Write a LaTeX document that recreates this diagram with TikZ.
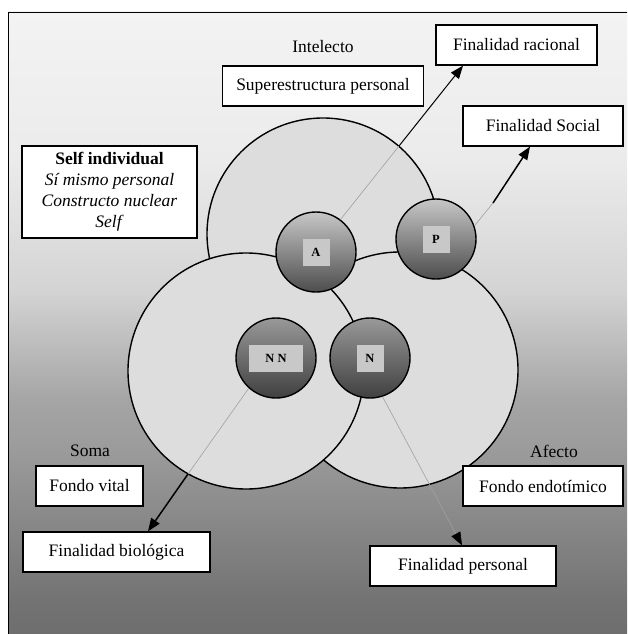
\documentclass[tikz,border=0pt]{standalone}
\usepackage{fontspec}
\setmainfont{Liberation Serif}
\usepackage{tikz}
\usetikzlibrary{arrows.meta}

\definecolor{bg0}{RGB}{110,110,110}
\definecolor{bg1}{RGB}{115,115,115}
\definecolor{bg2}{RGB}{155,155,155}
\definecolor{bg3}{RGB}{165,165,165}
\definecolor{bg4}{RGB}{212,212,212}
\definecolor{bg5}{RGB}{235,235,235}
\definecolor{bg6}{RGB}{243,243,243}
\definecolor{ringgray}{RGB}{221,221,221}
\definecolor{taggray}{RGB}{200,200,200}
\definecolor{faint}{RGB}{160,160,160}
\pgfdeclareverticalshading{backfade}{100bp}{color(0bp)=(bg0); color(25bp)=(bg0);
  color(27.7bp)=(bg1); color(39.8bp)=(bg2); color(43.8bp)=(bg3);
  color(52.7bp)=(bg4); color(63.1bp)=(bg5); color(75bp)=(bg6); color(100bp)=(bg6)}

\begin{document}
\begin{tikzpicture}[x=1pt, y=-1pt,
  every node/.style={font=\fontsize{17.5}{21}\selectfont},
  ring/.style={circle, draw, line width=1.4pt, fill=ringgray, inner sep=0pt},
  core/.style={circle, draw, line width=1.4pt, inner sep=0pt, minimum size=80pt},
  tag/.style={fill=taggray, inner sep=0pt, minimum height=27pt, minimum width=27pt,
    font=\fontsize{12.5}{14}\selectfont\bfseries},
  box/.style={draw, fill=white, line width=1.3pt, inner sep=0pt, minimum height=40pt},
  link/.style={line width=1.5pt, -{Triangle[length=13pt,width=10pt]}},
  faintlink/.style={draw=faint, line width=0.6pt}]
\useasboundingbox (0,0) rectangle (627,634);
\clip (0,0) rectangle (627,634);
\shade[shading=backfade] (8,12) rectangle (640,634);
\draw[line width=1.3pt] (8.5,650) |- (650,12.5);
% the three rings
\node[ring, minimum size=232pt] (intelecto) at (323,234) {};
\node[ring, minimum size=236pt] (afecto) at (400,370) {};
\node[ring, minimum size=236pt] (soma) at (246,371) {};
% faint parts of the connectors
\coordinate (r1) at (399,146);
\coordinate (s1) at (493,203);
\coordinate (b1) at (188,474);
% cores
\node[core, top color=black!22, bottom color=black!70] (A) at (316,252) {};
\node[core, top color=black!22, bottom color=black!70] (P) at (436,239) {};
\node[core, top color=black!40, bottom color=black!75] (NN) at (276,358) {};
\node[core, top color=black!40, bottom color=black!75] (N) at (370,358) {};
\node[tag] (tA) at (A) {A};
\node[tag] (tP) at (P) {P};
\node[tag, minimum width=54pt] (tNN) at (NN) {N N};
\node[tag] (tN) at (N) {N};
% labels and boxes
\node (lintelecto) at (323,47) {Intelecto};
\node (lsoma) at (90,451) {Soma};
\node (lafecto) at (554,451) {Afecto};
\node[box, minimum width=201pt] (superestructura) at (323,86) {Superestructura personal};
\node[box, minimum width=161pt] (racional) at (516.5,45) {Finalidad racional};
\node[box, minimum width=160pt] (social) at (543,126) {Finalidad Social};
\node[box, minimum width=175pt, minimum height=92pt, align=center] (self) at (109.5,192)
  {\textbf{Self individual}\\\textit{Sí mismo personal}\\\textit{Constructo nuclear}\\\textit{Self}};
\node[box, minimum width=107pt] (fvital) at (89.5,486) {Fondo vital};
\node[box, minimum width=187pt] (biologica) at (116.5,552) {Finalidad biológica};
\node[box, minimum width=160pt] (endotimico) at (543,486) {Fondo endotímico};
\node[box, minimum width=186pt] (personal) at (463,566) {Finalidad personal};
% connectors
\draw[faintlink] (A.53) -- (r1);
\draw[link, line width=1pt] (r1) -- ([xshift=-53.5pt]racional.south);
\draw[faintlink] (P.19) -- (s1);
\draw[link] (s1) -- ([xshift=-13pt]social.south);
\draw[faintlink] (NN.228) -- (b1);
\draw[link] (b1) -- ([xshift=31.5pt]biologica.north);
\draw[faintlink, -{Triangle[length=13pt,width=10pt,color=black]}] (N.288) -- ([xshift=-1pt]personal.north);
\end{tikzpicture}
\end{document}
